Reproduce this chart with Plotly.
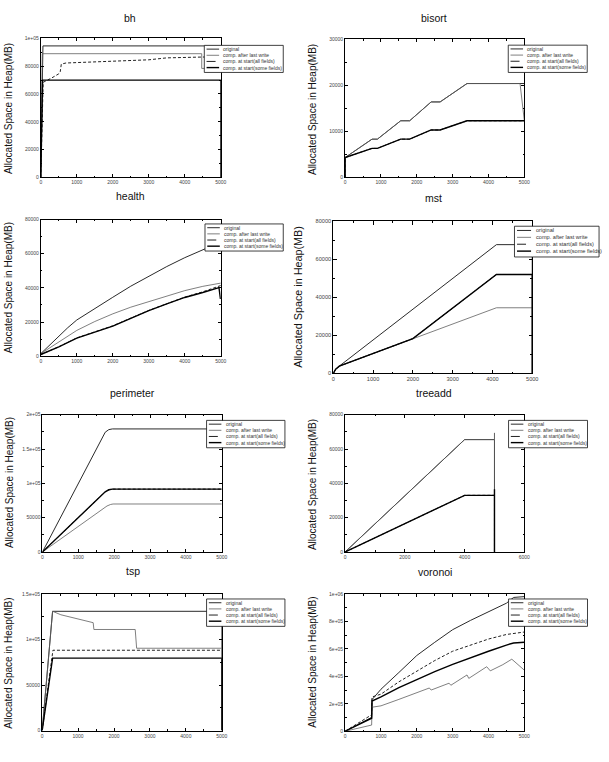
import plotly.graph_objects as go

W, H = 609, 762
FONT = "Liberation Sans, Arial, Helvetica, sans-serif"

# ---------------- labels / ticks ----------------
series_names = ["original", "comp. after last write",
                "comp. at start(all fields)", "comp. at start(some fields)"]
ylabel_text = "Allocated Space in Heap(MB)"

x5k_ticks = [0, 1000, 2000, 3000, 4000, 5000]
x5k_labels = ["0", "1000", "2000", "3000", "4000", "5000"]
x6k_ticks = [0, 2000, 4000, 6000]
x6k_labels = ["0", "2000", "4000", "6000"]

bh_yticks = [0, 20000, 40000, 60000, 80000, 100000]
bh_ylabels = ["0", "20000", "40000", "60000", "80000", "1e+05"]
bisort_yticks = [0, 10000, 20000, 30000]
bisort_ylabels = ["0", "10000", "20000", "30000"]
k80_yticks = [0, 20000, 40000, 60000, 80000]
k80_ylabels = ["0", "20000", "40000", "60000", "80000"]
perim_yticks = [0, 50000, 100000, 150000, 200000]
perim_ylabels = ["0", "50000", "1e+05", "1.5e+05", "2e+05"]
tsp_yticks = [0, 50000, 100000, 150000]
tsp_ylabels = ["0", "50000", "1e+05", "1.5e+05"]
vor_yticks = [0, 200000, 400000, 600000, 800000, 1000000]
vor_ylabels = ["0", "2e+05", "4e+05", "6e+05", "8e+05", "1e+06"]

# ---------------- data ----------------
# bh
bh_orig_x = [0, 60, 5000]
bh_orig_y = [0, 94600, 94600]
bh_last_x = [0, 40, 4470, 4470, 5000]
bh_last_y = [0, 89000, 89000, 78400, 78400]
bh_all_x = [0, 66, 300, 500, 540, 570, 700, 1000, 2000, 3000, 3500, 4000, 4500, 5000]
bh_all_y = [0, 68400, 71500, 74500, 76000, 81500, 82300, 82600, 83600, 84600, 86000, 86200, 86700, 86900]
bh_some_x = [0, 50, 5000, 5000]
bh_some_y = [0, 70000, 70000, 0]

# bisort
bisort_orig_x = [0, 0, 750, 900, 1550, 1800, 2400, 2650, 3400, 5000]
bisort_orig_y = [0, 4300, 8300, 8300, 12300, 12300, 16400, 16400, 20400, 20400]
bisort_last_x = [0, 0, 750, 900, 1550, 1800, 2400, 2650, 3400, 4880, 5000]
bisort_last_y = [0, 4300, 8300, 8300, 12300, 12300, 16400, 16400, 20400, 20400, 12300]
bisort_all_x = [0, 0, 750, 900, 1550, 1800, 2400, 2650, 3400, 5000]
bisort_all_y = [0, 4300, 6300, 6300, 8300, 8300, 10300, 10300, 12300, 12300]
bisort_some_x = [0, 0, 750, 900, 1550, 1800, 2400, 2650, 3400, 5000]
bisort_some_y = [0, 4300, 6300, 6300, 8300, 8300, 10300, 10300, 12300, 12300]

# health
health_orig_x = [0, 250, 500, 750, 1000, 1500, 2000, 2500, 3000, 3500, 4000, 4500, 4950, 5000]
health_orig_y = [1500, 6700, 11800, 16700, 21200, 28000, 34500, 41000, 47000, 52500, 57700, 62400, 66400, 66400]
health_last_x = [0, 250, 500, 750, 1000, 1500, 2000, 2500, 3000, 3500, 4000, 4500, 4950, 5000]
health_last_y = [1500, 5000, 8500, 12000, 15100, 20300, 24800, 28700, 32000, 35400, 38400, 40900, 42800, 42800]
health_all_x = [0, 250, 500, 1000, 1500, 2000, 2500, 3000, 3500, 4000, 4500, 4950, 5000]
health_all_y = [1000, 3200, 5500, 10700, 14200, 17800, 22300, 26800, 30700, 34600, 37700, 41400, 41400]
health_some_x = [0, 250, 500, 1000, 1500, 2000, 2500, 3000, 3500, 4000, 4500, 4950, 4990]
health_some_y = [1000, 3100, 5400, 10600, 14100, 17600, 22200, 26700, 30600, 34400, 37300, 40200, 33500]

# mst
mst_orig_x = [0, 60, 150, 4100, 5000, 5000]
mst_orig_y = [0, 2200, 3800, 67700, 67700, 0]
mst_last_x = [0, 60, 150, 2000, 4100, 5000]
mst_last_y = [0, 2200, 3800, 18300, 34500, 34500]
mst_all_x = [0, 60, 150, 2000, 4100, 5000]
mst_all_y = [0, 2200, 3800, 18300, 52000, 52000]
mst_some_x = [0, 60, 150, 2000, 4100, 5000, 5000]
mst_some_y = [0, 2200, 3800, 18300, 52000, 52000, 0]

# perimeter
perim_orig_x = [0, 1750, 1850, 1950, 5000]
perim_orig_y = [0, 174500, 178300, 179300, 179300]
perim_last_x = [0, 1800, 1900, 1970, 5000]
perim_last_y = [0, 67000, 69200, 69900, 69900]
perim_all_x = [0, 1750, 1850, 1950, 5000]
perim_all_y = [0, 87700, 90600, 91600, 91600]
perim_some_x = [0, 1750, 1850, 1950, 5000]
perim_some_y = [0, 87700, 90600, 91600, 91600]

# treeadd
tree_orig_x = [0, 4000, 5000, 5000]
tree_orig_y = [0, 65500, 65500, 0]
tree_last_x = [0, 4000, 5000, 5000, 5000]
tree_last_y = [0, 65500, 65500, 69400, 0]
tree_all_x = [0, 4000, 5000, 5000]
tree_all_y = [0, 33000, 33000, 0]
tree_some_x = [0, 4000, 5000, 5000, 5000]
tree_some_y = [0, 33000, 33000, 36600, 0]

# tsp
tsp_orig_x = [0, 290, 5000, 5000]
tsp_orig_y = [0, 131000, 131000, 0]
tsp_last_x = [0, 290, 520, 980, 1420, 1440, 2590, 2630, 5000]
tsp_last_y = [0, 131000, 127200, 122500, 118500, 111000, 111000, 90400, 90400]
tsp_all_x = [0, 300, 5000]
tsp_all_y = [0, 88200, 88200]
tsp_some_x = [0, 290, 5000, 5000]
tsp_some_y = [0, 79500, 79500, 0]

# voronoi
vor_orig_x = [0, 740, 750, 1000, 1500, 2000, 2500, 3000, 3500, 4000, 4500, 4700, 5000]
vor_orig_y = [0, 101000, 230000, 306000, 428000, 552000, 648000, 740000, 808000, 872000, 933000, 975000, 981000]
vor_last_x = [0, 740, 750, 1000, 1500, 2000, 2350, 2400, 2900, 2950, 3400, 3450, 3950, 4050, 4400, 4650, 5000]
vor_last_y = [0, 45000, 175000, 185000, 232000, 280000, 315000, 300000, 350000, 335000, 410000, 385000,
              470000, 440000, 485000, 525000, 445000]
vor_all_x = [0, 740, 750, 1000, 1500, 2000, 2500, 3000, 3500, 4000, 4500, 4700, 5000]
vor_all_y = [0, 120000, 250000, 270000, 360000, 438000, 515000, 583000, 630000, 672000, 705000, 714000, 723000]
vor_some_x = [0, 740, 750, 1000, 1500, 2000, 2500, 3000, 3500, 4000, 4500, 4700, 5000]
vor_some_y = [0, 95000, 220000, 250000, 318000, 378000, 435000, 487000, 537000, 583000, 628000, 643000, 648000]

# ---------------- styles ----------------
line_styles = [
    dict(color="#2a2a2a", width=1.0, dash="solid"),
    dict(color="#606060", width=0.8, dash="solid"),
    dict(color="#222222", width=1.0, dash="3px,2px"),
    dict(color="#000000", width=1.4, dash="solid"),
]

# panel layout (pixel boxes)
panels = [
    dict(title="bh", series=[(bh_orig_x, bh_orig_y), (bh_last_x, bh_last_y), (bh_all_x, bh_all_y), (bh_some_x, bh_some_y)],
         xt=(x5k_ticks, x5k_labels), yt=(bh_yticks, bh_ylabels), xmax=5000, ymax=100000, xminor=500, yminor=10000,
         box=(39.3, 221.7, 35.7, 175.7), leg=(205, 42.7, 285, 70), ylab=(6, 106), ttl=(130, 15), s=1.0),
    dict(title="bisort", series=[(bisort_orig_x, bisort_orig_y), (bisort_last_x, bisort_last_y), (bisort_all_x, bisort_all_y), (bisort_some_x, bisort_some_y)],
         xt=(x5k_ticks, x5k_labels), yt=(bisort_yticks, bisort_ylabels), xmax=5000, ymax=30000, xminor=500, yminor=5000,
         box=(347.7, 529.3, 36.7, 175.7), leg=(513, 42.5, 593, 70), ylab=(314, 107), ttl=(438, 15), s=1.0),
    dict(title="health", series=[(health_orig_x, health_orig_y), (health_last_x, health_last_y), (health_all_x, health_all_y), (health_some_x, health_some_y)],
         xt=(x5k_ticks, x5k_labels), yt=(k80_yticks, k80_ylabels), xmax=5000, ymax=80000, xminor=500, yminor=10000,
         box=(39.3, 221.7, 218.3, 356), leg=(205.7, 222.7, 285, 250), ylab=(6.5, 287), ttl=(130, 195), s=1.0),
    dict(title="mst", series=[(mst_orig_x, mst_orig_y), (mst_last_x, mst_last_y), (mst_all_x, mst_all_y), (mst_some_x, mst_some_y)],
         xt=(x5k_ticks, x5k_labels), yt=(k80_yticks, k80_ylabels), xmax=5000, ymax=80000, xminor=500, yminor=10000,
         box=(335.7, 537.3, 220, 373.3), leg=(519.3, 225, 605, 256), ylab=(300, 296), ttl=(437, 196.5), s=1.12),
    dict(title="perimeter", series=[(perim_orig_x, perim_orig_y), (perim_last_x, perim_last_y), (perim_all_x, perim_all_y), (perim_some_x, perim_some_y)],
         xt=(x5k_ticks, x5k_labels), yt=(perim_yticks, perim_ylabels), xmax=5000, ymax=200000, xminor=500, yminor=25000,
         box=(41, 222.7, 415, 553.3), leg=(207.3, 420.7, 286.7, 448.3), ylab=(7, 483), ttl=(132, 393), s=1.0),
    dict(title="treeadd", series=[(tree_orig_x, tree_orig_y), (tree_last_x, tree_last_y), (tree_all_x, tree_all_y), (tree_some_x, tree_some_y)],
         xt=(x6k_ticks, x6k_labels), yt=(k80_yticks, k80_ylabels), xmax=6000, ymax=80000, xminor=1000, yminor=10000,
         box=(347.7, 529.3, 415, 553.3), leg=(513.3, 420.7, 593.3, 448.3), ylab=(314, 485), ttl=(438, 393.5), s=1.0),
    dict(title="tsp", series=[(tsp_orig_x, tsp_orig_y), (tsp_last_x, tsp_last_y), (tsp_all_x, tsp_all_y), (tsp_some_x, tsp_some_y)],
         xt=(x5k_ticks, x5k_labels), yt=(tsp_yticks, tsp_ylabels), xmax=5000, ymax=150000, xminor=500, yminor=25000,
         box=(40.7, 222.7, 595.7, 733.3), leg=(207.3, 600.7, 286.7, 628.3), ylab=(7, 665), ttl=(132.7, 573), s=1.0),
    dict(title="voronoi", series=[(vor_orig_x, vor_orig_y), (vor_last_x, vor_last_y), (vor_all_x, vor_all_y), (vor_some_x, vor_some_y)],
         xt=(x5k_ticks, x5k_labels), yt=(vor_yticks, vor_ylabels), xmax=5000, ymax=1000000, xminor=500, yminor=100000,
         box=(347.7, 529.3, 595.7, 734), leg=(513.3, 600.7, 593.3, 628.3), ylab=(315, 664), ttl=(439, 574), s=1.0),
]


def px(x):
    return x / W


def py(y):
    return 1 - y / H


fig = go.Figure()
layout_axes = {}
shapes = []
annotations = []

for i, p in enumerate(panels):
    n = i + 1
    xa = "x" if n == 1 else f"x{n}"
    ya = "y" if n == 1 else f"y{n}"
    for k, (xs, ys) in enumerate(p["series"]):
        fig.add_trace(go.Scatter(x=xs, y=ys, mode="lines", name=series_names[k],
                                 line=line_styles[k], xaxis=xa, yaxis=ya, showlegend=False))
    s = p["s"]
    x0, x1, y0, y1 = p["box"]
    common = dict(ticks="inside", ticklen=3 * s, tickwidth=0.7, tickcolor="black",
                  showline=True, linecolor="black", linewidth=1, mirror="ticks",
                  showgrid=False, zeroline=False, fixedrange=True, tickmode="array",
                  tickfont=dict(size=5 * s, color="#444", family=FONT))
    layout_axes["xaxis" if n == 1 else f"xaxis{n}"] = dict(
        common, domain=[px(x0), px(x1)], range=[0, p["xmax"]],
        tickvals=p["xt"][0], ticktext=p["xt"][1], anchor=ya,
        minor=dict(ticks="inside", ticklen=1.6 * s, tickwidth=0.6, tickcolor="black",
                   tickmode="linear", tick0=0, dtick=p["xminor"], showgrid=False))
    layout_axes["yaxis" if n == 1 else f"yaxis{n}"] = dict(
        common, domain=[py(y1), py(y0)], range=[0, p["ymax"]],
        tickvals=p["yt"][0], ticktext=p["yt"][1], anchor=xa,
        minor=dict(ticks="inside", ticklen=1.6 * s, tickwidth=0.6, tickcolor="black",
                   tickmode="linear", tick0=0, dtick=p["yminor"], showgrid=False))

    # panel title
    annotations.append(dict(text=p["title"], x=px(p["ttl"][0]), y=py(p["ttl"][1]),
                            xref="paper", yref="paper", xanchor="center", yanchor="middle",
                            showarrow=False, font=dict(size=10.5, color="#111", family=FONT)))
    # y axis label
    annotations.append(dict(text=ylabel_text, x=px(p["ylab"][0]), y=py(p["ylab"][1]),
                            xref="paper", yref="paper", xanchor="center", yanchor="middle",
                            textangle=-90, showarrow=False,
                            font=dict(size=10.0 * (1.08 if s > 1 else 1), color="#111", family=FONT)))
    # legend box
    lx0, ly0, lx1, ly1 = p["leg"]
    shapes.append(dict(type="rect", xref="paper", yref="paper", x0=px(lx0), x1=px(lx1),
                       y0=py(ly1), y1=py(ly0), fillcolor="white",
                       line=dict(color="#111", width=0.8), layer="above"))
    for k, name in enumerate(series_names):
        ry = ly0 + (3.8 + 6.2 * k) * s
        st = line_styles[k]
        shapes.append(dict(type="line", xref="paper", yref="paper",
                           x0=px(lx0 + 2.3 * s), x1=px(lx0 + 15 * s), y0=py(ry), y1=py(ry),
                           line=dict(color=st["color"], width=st["width"],
                                     dash="dash" if k == 2 else "solid"),
                           layer="above"))
        annotations.append(dict(text=name, x=px(lx0 + 17.3 * s), y=py(ry), xref="paper", yref="paper",
                                xanchor="left", yanchor="middle", showarrow=False,
                                font=dict(size=5 * s, color="#333", family=FONT)))

fig.update_layout(
    width=W, height=H, margin=dict(l=0, r=0, t=0, b=0),
    paper_bgcolor="white", plot_bgcolor="white", showlegend=False,
    font=dict(family=FONT), shapes=shapes, annotations=annotations,
    **layout_axes,
)

fig.write_html("out.html")
